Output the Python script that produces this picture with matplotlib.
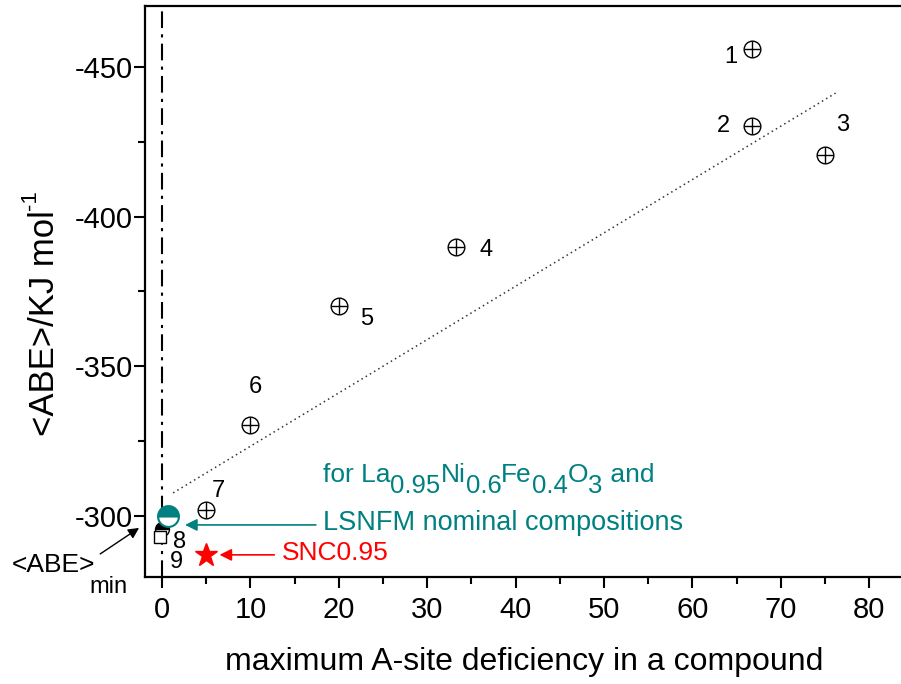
import numpy as np
import matplotlib
matplotlib.use('Agg')
import matplotlib.pyplot as plt
from matplotlib.ticker import MultipleLocator

plt.rcParams['font.family'] = ['Liberation Sans', 'DejaVu Sans']
plt.rcParams['axes.unicode_minus'] = False

# Compounds 1..7 (crossed circles)
x_def = [66.7, 66.7, 75.0, 33.3, 20.0, 10.0, 5.0]
abe = [-455.9, -430.3, -420.6, -389.9, -370.2, -330.4, -302.0]
num_labels = ['1', '2', '3', '4', '5', '6', '7']
num_lx = [64.3, 63.5, 77.0, 36.7, 23.2, 10.6, 6.4]
num_ly = [-453.3, -430.3, -430.6, -388.9, -365.8, -343.1, -308.2]

# nominal compositions
teal_x, teal_y = [0.7], [-300.0]
sq_x, sq_y = [-0.2], [-293.0]
half_x, half_y = [0.0], [-295.5]
snc_x, snc_y = [5.0], [-287.0]
extra_labels = ['8', '9']
extra_lx = [2.0, 1.6]
extra_ly = [-291.2, -284.6]

# trend line end points
fit_x = [1.25, 76.2]
fit_y = [-307.7, -441.3]

# formula pieces: (text, is_subscript)
formula = [('for La', False), ('0.95', True), ('Ni', False), ('0.6', True),
           ('Fe', False), ('0.4', True), ('O', False), ('3', True), (' and', False)]

teal = '#008080'

fig = plt.figure(figsize=(9.01, 6.84), dpi=100)
ax = fig.add_axes([145/901, 1-577/684, 1-145/901 + 0.002, (577-6)/684])

ax.axvline(0, color='black', lw=1.5, ls=(0, (8, 3, 1.5, 3)), zorder=1)
ax.plot(fit_x, fit_y, color='#333333', lw=1.1, ls=(0, (1, 2.2)), zorder=1)

ax.plot(x_def, abe, 'o', ms=12, mfc='none', mec='black', mew=1.0, zorder=3)
ax.plot(x_def, abe, '+', ms=12, mec='black', mew=1.0, zorder=3)

ax.plot(half_x, half_y, 'o', ms=10, fillstyle='top', mfc='black', mfcalt='white',
        mec='black', mew=1.0, zorder=3)
ax.plot(sq_x, sq_y, 's', ms=9, mfc='white', mec='black', mew=1.0, zorder=4)
ax.plot(teal_x, teal_y, 'o', ms=15, fillstyle='top', mfc=teal, mfcalt='white',
        mec=teal, mew=1.5, zorder=5)
ax.plot(snc_x, snc_y, '*', ms=17, color='red', mec='red', zorder=5)

for t, lx, ly in zip(num_labels + extra_labels, num_lx + extra_lx, num_ly + extra_ly):
    ax.text(lx, ly, t, fontsize=17, ha='center', va='center')

# teal annotation
ax.annotate('', xy=(2.6, -297.0), xytext=(17.4, -297.0),
            arrowprops=dict(arrowstyle='-|>', color=teal, lw=1.2,
                            mutation_scale=18, shrinkA=0, shrinkB=0))
prev = None
prev_sub = False
for piece, sub in formula:
    fs = 18.5 if sub else 19
    if prev is None:
        prev = ax.text(18.2, -311.4, piece, color=teal, fontsize=fs,
                       ha='left', va='baseline')
    else:
        dy = 0
        if sub and not prev_sub:
            dy = -8
        elif prev_sub and not sub:
            dy = 8
        prev = ax.annotate(piece, xy=(1, 0), xycoords=prev, xytext=(0, dy),
                           textcoords='offset points', color=teal, fontsize=fs,
                           ha='left', va='bottom')
    prev_sub = sub
ax.text(18.2, -295.3, 'LSNFM nominal compositions',
        color=teal, fontsize=19.5, ha='left', va='baseline')

ax.annotate('', xy=(6.5, -287.0), xytext=(12.7, -287.0),
            arrowprops=dict(arrowstyle='-|>', color='red', lw=1.2,
                            mutation_scale=18, shrinkA=0, shrinkB=0))
ax.text(13.6, -287.6, 'SNC0.95', color='red', fontsize=19, ha='left', va='center')

ax.annotate('', xy=(-2.6, -296.0), xytext=(-7.0, -287.3), annotation_clip=False,
            arrowprops=dict(arrowstyle='-|>', color='black', lw=1.0,
                            mutation_scale=16, shrinkA=0, shrinkB=0))
ax.text(-12.3, -283.6, '<ABE>', fontsize=19, ha='center', va='center')
ax.text(-6.1, -276.3, 'min', fontsize=17, ha='center', va='center')

ax.set_xlim(-1.93, 83.8)
ax.set_ylim(-279.6, -470.4)
ax.xaxis.set_major_locator(MultipleLocator(10))
ax.xaxis.set_minor_locator(MultipleLocator(5))
ax.yaxis.set_major_locator(MultipleLocator(50))
ax.yaxis.set_minor_locator(MultipleLocator(25))
ax.tick_params(which='both', direction='out', width=1.5, labelsize=21,
               top=False, right=False)
ax.tick_params(which='major', length=8)
ax.tick_params(axis='x', which='major', pad=6)
ax.tick_params(axis='y', which='major', pad=1)
ax.tick_params(which='minor', length=5)
for s in ax.spines.values():
    s.set_linewidth(1.6)

ax.set_xlabel('maximum A-site deficiency in a compound', fontsize=23, labelpad=16)
ylab = fig.text(45/901, 1-323/684, '<ABE>/KJ mol', fontsize=25, rotation=90,
                ha='center', va='center')
ax.annotate('-1', xy=(0, 1), xycoords=ylab, xytext=(-6, 0), textcoords='offset points',
            fontsize=16, rotation=90, ha='left', va='bottom')

fig.savefig('out.png', dpi=100)
